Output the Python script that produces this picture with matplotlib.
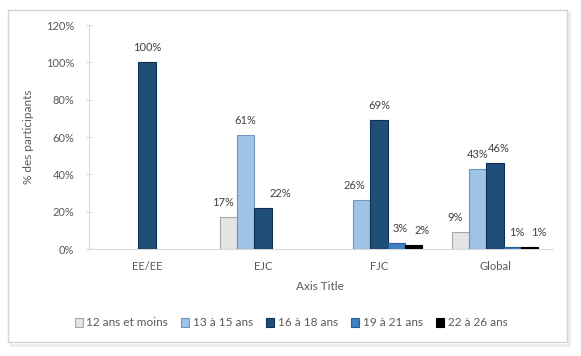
import numpy as np
import matplotlib
matplotlib.use('Agg')
import matplotlib.pyplot as plt
from matplotlib.patches import Rectangle

# Data
categories = ['EE/EE', 'EJC', 'FJC', 'Global']
series_names = ['12 ans et moins', '13 à 15 ans', '16 à 18 ans', '19 à 21 ans', '22 à 26 ans']
age_12_moins = [0, 17, 0, 9]
age_13_15 = [0, 61, 26, 43]
age_16_18 = [100, 22, 69, 46]
age_19_21 = [0, 0, 3, 1]
age_22_26 = [0, 0, 2, 1]
y_ticks = [0, 20, 40, 60, 80, 100, 120]

series = [age_12_moins, age_13_15, age_16_18, age_19_21, age_22_26]
colors = ['#e4e4e4', '#9dc3e6', '#1f4e79', '#3f7fc4', '#000000']
edges = ['#a6a6a6', '#6e95bd', '#10304f', '#2a5d94', '#000000']
# label shifts in pixels (Excel moves some labels sideways)
label_dx = [[0, -5, 0, -5],
            [0, 0, -7, 0],
            [0, 17, 0, 4],
            [0, 0, 4, 4],
            [0, 0, 8, 9]]

plt.rcParams['font.family'] = ['Lato', 'DejaVu Sans']
text_grey = '#595959'

W, H = 581, 356
fig = plt.figure(figsize=(W / 100, H / 100), dpi=100)

# chart frame with a faint shadow
fig.patches.append(Rectangle((10 / W, 1 - 345 / H), 559 / W, 332 / H, transform=fig.transFigure,
                             facecolor='none', edgecolor='#ededed', linewidth=2, zorder=-2))
fig.patches.append(Rectangle((8 / W, 1 - 342 / H), 559 / W, 332 / H, transform=fig.transFigure,
                             facecolor='white', edgecolor='#d4d4d4', linewidth=1, zorder=-1))

ax = fig.add_axes([89 / W, 1 - 249 / H, (553 - 89) / W, (249 - 25) / H])
ax.patch.set_alpha(0)

x = np.arange(len(categories))
width = 0.15
handles = []
for i, vals in enumerate(series):
    pos = x + (i - 2) * width
    lw = [0.8 if v > 0 else 0 for v in vals]
    bars = ax.bar(pos, vals, width, color=colors[i], edgecolor=edges[i], linewidth=lw,
                  label=series_names[i], zorder=3)
    handles.append(bars)
    for j, v in enumerate(vals):
        if v > 0:
            ax.annotate('%d%%' % v, (pos[j], v), xytext=(label_dx[i][j] * 0.72, 10.5),
                        textcoords='offset points', ha='center', va='center',
                        fontsize=8, color='#404040')

ax.set_xlim(-0.5, 3.5)
ax.set_ylim(0, 120)
ax.set_yticks(y_ticks)
ax.set_yticklabels(['%d%%' % t for t in y_ticks], fontsize=8, color=text_grey)
ax.set_xticks(x)
ax.set_xticklabels(categories, fontsize=8, color=text_grey)
ax.tick_params(axis='x', length=0, pad=9)
ax.tick_params(axis='y', direction='inout', length=5, color='#d9d9d9', pad=8)
for s in ['top', 'right']:
    ax.spines[s].set_visible(False)
ax.spines['left'].set_color('#d9d9d9')
ax.spines['bottom'].set_color('#d9d9d9')

ax.set_ylabel('% des participants', fontsize=8.5, color=text_grey)
ax.yaxis.set_label_coords(-55 / (553 - 89), 0.5)

fig.text(320 / W, 1 - 287 / H, 'Axis Title', ha='center', va='center', fontsize=8.5, color=text_grey)

leg = fig.legend(handles=handles, loc='center', bbox_to_anchor=(291 / W, 1 - 323 / H), ncol=5,
                 frameon=False, fontsize=8.5, handlelength=0.7, handleheight=0.7,
                 handletextpad=0.3, columnspacing=1.1, labelcolor=text_grey)
for h in leg.legend_handles:
    h.set_linewidth(0.8)

plt.savefig('out.png', dpi=100)
